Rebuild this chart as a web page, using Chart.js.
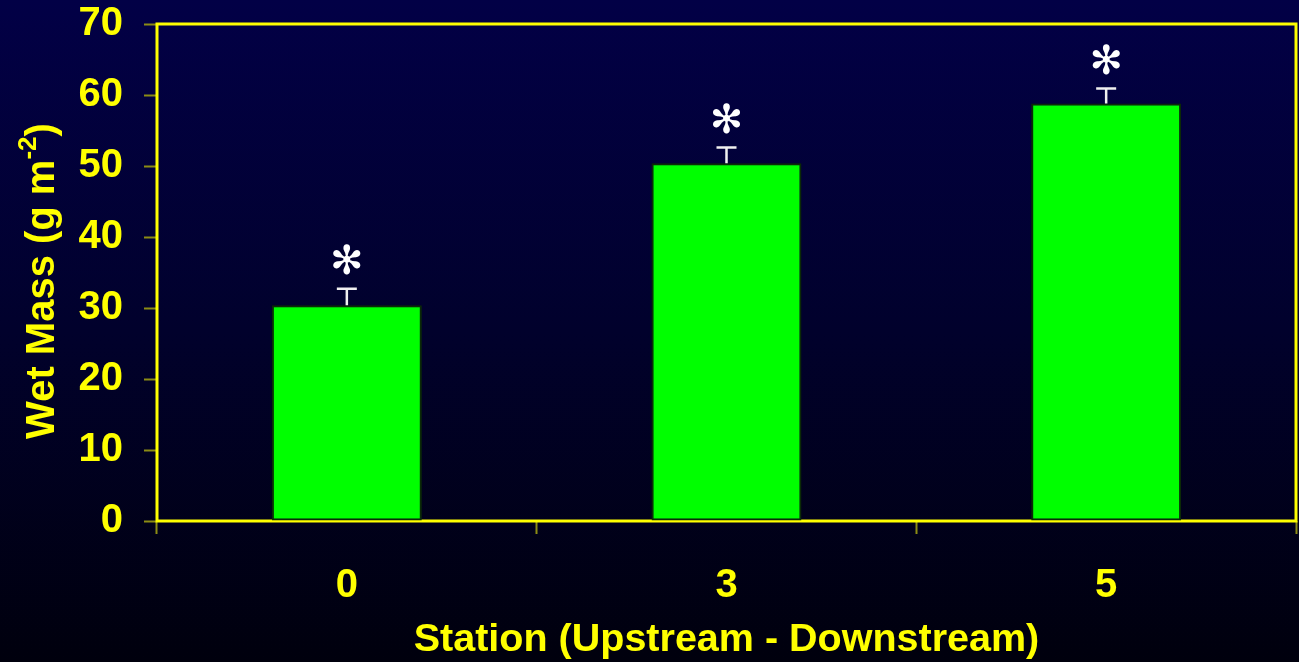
<!DOCTYPE html>
<html>
<head>
<meta charset="utf-8">
<script src="https://cdn.jsdelivr.net/npm/chart.js@4/dist/chart.umd.min.js"></script>
<style>
  html, body { margin: 0; padding: 0; width: 1299px; height: 662px; overflow: hidden; background: #00000d; }
  #wrap { position: relative; width: 1299px; height: 662px; }
</style>
</head>
<body>
<div id="wrap"><canvas id="c" width="1299" height="662"></canvas></div>
<script>
// Wet mass per station, with standard error and significance marks
const stations = ['0', '3', '5'];
const wetMass = [30.4, 50.4, 58.8];
const stdErr = [2.3, 2.2, 2.1];
const significance = ['✻', '✻', '✻'];
const yTicks = [0, 10, 20, 30, 40, 50, 60, 70];

const YELLOW = '#ffff00';
const TICK_MARK = '#8c8c14';
const FONT = '"Liberation Sans", Arial, sans-serif';

const backgroundPlugin = {
  id: 'backgroundFill',
  beforeDraw(chart) {
    const { ctx, width, height } = chart;
    const g = ctx.createLinearGradient(0, 0, 0, height);
    g.addColorStop(0, '#020046');
    g.addColorStop(0.5, '#01012c');
    g.addColorStop(1, '#00000d');
    ctx.save();
    ctx.fillStyle = g;
    ctx.fillRect(0, 0, width, height);
    ctx.restore();
  }
};

// Yellow frame round the plot area
const framePlugin = {
  id: 'frame',
  beforeDatasetsDraw(chart) {
    const { ctx, chartArea: a } = chart;
    ctx.save();
    ctx.strokeStyle = YELLOW;
    ctx.lineWidth = 3;
    ctx.strokeRect(a.left, a.top, a.right - a.left, a.bottom - a.top);
    ctx.restore();
  }
};

// Error bars (upper half only) and significance marks above each bar
const errorPlugin = {
  id: 'errorMarks',
  afterDatasetsDraw(chart) {
    const { ctx } = chart;
    const y = chart.scales.y;
    const meta = chart.getDatasetMeta(0);
    ctx.save();
    meta.data.forEach((bar, i) => {
      const x = bar.x;
      const top = y.getPixelForValue(wetMass[i]);
      const cap = y.getPixelForValue(wetMass[i] + stdErr[i]);
      ctx.strokeStyle = '#f0f0f0';
      ctx.lineWidth = 2.5;
      ctx.beginPath();
      ctx.moveTo(x, top);
      ctx.lineTo(x, cap);
      ctx.moveTo(x - 10, cap);
      ctx.lineTo(x + 10, cap);
      ctx.stroke();
      ctx.fillStyle = '#ffffff';
      ctx.font = '40px "DejaVu Sans", sans-serif';
      ctx.textAlign = 'center';
      ctx.textBaseline = 'middle';
      ctx.fillText(significance[i], x, cap - 25);
    });
    ctx.restore();
  }
};

// Axis titles, the y title carrying a superscript unit exponent
const titlePlugin = {
  id: 'axisTitles',
  afterDraw(chart) {
    const { ctx, chartArea: a } = chart;
    ctx.save();
    ctx.fillStyle = YELLOW;
    ctx.textBaseline = 'alphabetic';

    // x title
    ctx.font = 'bold 39.5px ' + FONT;
    ctx.textAlign = 'center';
    ctx.fillText('Station (Upstream - Downstream)', (a.left + a.right) / 2, 651);

    // y title, rotated
    const main = 'Wet Mass (g m';
    const sup = '-2';
    const close = ')';
    ctx.font = 'bold 40px ' + FONT;
    const w1 = ctx.measureText(main).width;
    const w3 = ctx.measureText(close).width;
    ctx.font = 'bold 26px ' + FONT;
    const w2 = ctx.measureText(sup).width;
    const total = w1 + w2 + w3;
    ctx.translate(54, 281);
    ctx.rotate(-Math.PI / 2);
    ctx.textAlign = 'left';
    const x0 = -total / 2;
    ctx.font = 'bold 40px ' + FONT;
    ctx.fillText(main, x0, 0);
    ctx.font = 'bold 26px ' + FONT;
    ctx.fillText(sup, x0 + w1, -18);
    ctx.font = 'bold 40px ' + FONT;
    ctx.fillText(close, x0 + w1 + w2, 0);
    ctx.restore();
  }
};

new Chart(document.getElementById('c'), {
  type: 'bar',
  data: {
    labels: stations,
    datasets: [{
      data: wetMass,
      backgroundColor: '#00ff00',
      borderColor: '#0b2a06',
      borderWidth: 2,
      borderSkipped: false,
      barPercentage: 0.395,
      categoryPercentage: 1.0
    }]
  },
  options: {
    responsive: false,
    animation: false,
    devicePixelRatio: 1,
    layout: { padding: { top: 24, right: 3, left: 0, bottom: 0 } },
    plugins: { legend: { display: false }, tooltip: { enabled: false } },
    scales: {
      x: {
        offset: true,
        grid: {
          offset: true,
          drawOnChartArea: false,
          drawTicks: true,
          tickLength: 13,
          tickWidth: 2,
          color: TICK_MARK
        },
        border: { display: false },
        ticks: {
          color: YELLOW,
          font: { family: FONT, size: 40, weight: 'bold' },
          padding: 28,
          maxRotation: 0
        },
        afterFit(scale) {
          scale.height = 141;
          scale.paddingLeft = 0;
          scale.paddingRight = 0;
        }
      },
      y: {
        min: 0,
        max: 70,
        afterBuildTicks(scale) { scale.ticks = yTicks.map(v => ({ value: v })); },
        grid: {
          drawOnChartArea: false,
          drawTicks: true,
          tickLength: 13,
          tickWidth: 2,
          color: TICK_MARK
        },
        border: { display: false },
        ticks: {
          color: YELLOW,
          font: { family: FONT, size: 40, weight: 'bold' },
          padding: 21
        },
        afterFit(scale) {
          scale.width = 157;
          scale.paddingTop = 0;
          scale.paddingBottom = 0;
        }
      }
    }
  },
  plugins: [backgroundPlugin, framePlugin, errorPlugin, titlePlugin]
});
</script>
</body>
</html>
